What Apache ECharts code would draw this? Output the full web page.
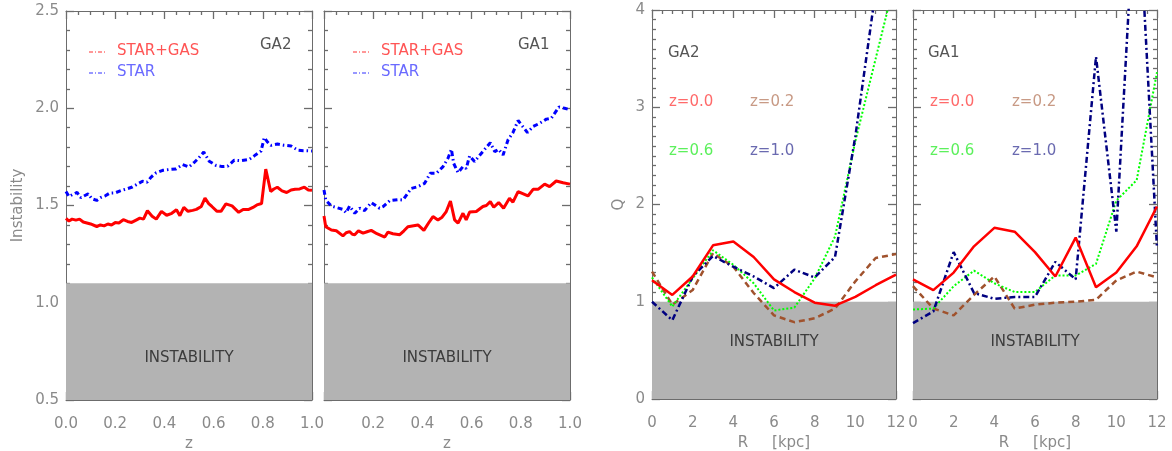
<!DOCTYPE html>
<html>
<head>
<meta charset="utf-8">
<script src="https://cdn.jsdelivr.net/npm/echarts@6/dist/echarts.min.js"></script>
<style>html,body{margin:0;padding:0;background:#fff}#c{width:1172px;height:451px}</style>
</head>
<body>
<div id="c"></div>
<script>
// ---------- DATA ----------
// Panel 1 (GA2): instability vs z
const zRedGA2 = [0.000,0.012,0.025,0.04,0.055,0.07,0.085,0.10,0.125,0.14,0.155,0.17,0.185,0.20,0.215,0.233,0.25,0.267,0.285,0.30,0.315,0.331,0.35,0.367,0.388,0.409,0.43,0.449,0.463,0.479,0.496,0.515,0.53,0.55,0.565,0.58,0.593,0.614,0.63,0.65,0.675,0.702,0.72,0.743,0.76,0.776,0.795,0.812,0.832,0.845,0.859,0.878,0.897,0.915,0.931,0.95,0.969,0.985,1.0];
const vRedGA2 = [1.434,1.42,1.43,1.425,1.43,1.415,1.41,1.405,1.392,1.40,1.395,1.405,1.40,1.412,1.41,1.427,1.418,1.413,1.425,1.435,1.43,1.473,1.445,1.43,1.47,1.45,1.46,1.478,1.448,1.49,1.47,1.475,1.48,1.495,1.538,1.51,1.495,1.47,1.47,1.508,1.498,1.465,1.48,1.48,1.49,1.503,1.51,1.687,1.572,1.585,1.594,1.575,1.567,1.58,1.584,1.585,1.594,1.58,1.578];
const zBlueGA2 = [0.000,0.012,0.025,0.045,0.06,0.075,0.09,0.105,0.125,0.14,0.16,0.178,0.2,0.226,0.245,0.27,0.29,0.311,0.33,0.345,0.365,0.393,0.42,0.447,0.474,0.5,0.52,0.54,0.56,0.582,0.61,0.635,0.657,0.684,0.71,0.745,0.765,0.779,0.793,0.806,0.82,0.833,0.86,0.885,0.915,0.942,0.965,0.99,1.0];
const vBlueGA2 = [1.572,1.546,1.555,1.567,1.54,1.55,1.56,1.535,1.526,1.54,1.55,1.564,1.565,1.578,1.585,1.595,1.61,1.625,1.62,1.645,1.667,1.681,1.685,1.688,1.71,1.698,1.72,1.745,1.775,1.728,1.706,1.70,1.702,1.733,1.73,1.737,1.755,1.768,1.78,1.849,1.825,1.809,1.816,1.81,1.806,1.785,1.782,1.781,1.78];
// Panel 2 (GA1)
const zRedGA1 = [0.000,0.007,0.015,0.03,0.05,0.077,0.09,0.104,0.115,0.125,0.14,0.159,0.175,0.192,0.215,0.247,0.26,0.28,0.308,0.325,0.341,0.382,0.406,0.425,0.443,0.463,0.48,0.497,0.514,0.531,0.545,0.565,0.578,0.592,0.619,0.646,0.66,0.676,0.69,0.71,0.73,0.754,0.768,0.789,0.829,0.85,0.87,0.897,0.917,0.944,0.972,1.0];
const vRedGA1 = [1.446,1.391,1.40,1.374,1.37,1.344,1.36,1.366,1.352,1.35,1.37,1.358,1.365,1.372,1.355,1.338,1.363,1.355,1.35,1.37,1.391,1.40,1.372,1.41,1.443,1.426,1.44,1.469,1.523,1.426,1.409,1.46,1.426,1.466,1.469,1.495,1.50,1.52,1.491,1.515,1.486,1.537,1.517,1.571,1.549,1.583,1.583,1.61,1.597,1.626,1.617,1.61];
const zBlueGA1 = [0.000,0.007,0.03,0.05,0.077,0.09,0.104,0.125,0.145,0.165,0.192,0.21,0.226,0.24,0.267,0.3,0.321,0.355,0.382,0.409,0.432,0.457,0.484,0.504,0.518,0.527,0.545,0.565,0.578,0.592,0.612,0.64,0.676,0.694,0.71,0.728,0.748,0.768,0.789,0.808,0.827,0.85,0.877,0.904,0.924,0.955,0.978,1.0];
const vBlueGA1 = [1.58,1.528,1.497,1.49,1.48,1.463,1.497,1.46,1.486,1.474,1.515,1.50,1.486,1.494,1.525,1.53,1.528,1.588,1.597,1.614,1.666,1.666,1.70,1.743,1.789,1.717,1.669,1.70,1.69,1.755,1.726,1.769,1.823,1.777,1.789,1.76,1.837,1.875,1.937,1.906,1.875,1.906,1.923,1.944,1.949,2.006,2.0,1.992];
// Panels 3-4: Toomre Q vs R [kpc]
const R = [0,1,2,3,4,5,6,7,8,9,10,11,12];
const qGA2_z00 = [1.22,1.07,1.26,1.58,1.62,1.46,1.23,1.10,0.99,0.96,1.05,1.17,1.28];
const qGA2_z02 = [1.31,0.97,1.12,1.50,1.36,1.09,0.86,0.79,0.83,0.93,1.21,1.45,1.49];
const qGA2_z06 = [1.25,0.95,1.24,1.53,1.38,1.19,0.91,0.94,1.24,1.67,2.65,3.50,4.35];
const qGA2_z10 = [1.00,0.81,1.26,1.47,1.36,1.26,1.14,1.33,1.25,1.46,2.70,4.20,5.50];
const qGA1_z00 = [1.23,1.12,1.30,1.57,1.76,1.72,1.51,1.26,1.66,1.15,1.30,1.57,1.98];
const qGA1_z02 = [1.16,0.93,0.86,1.07,1.26,0.93,0.97,0.99,1.00,1.02,1.22,1.31,1.25];
const qGA1_z06 = [0.92,0.93,1.16,1.32,1.19,1.10,1.10,1.27,1.27,1.39,2.04,2.25,3.36];
const qGA1_z10 = [0.78,0.90,1.51,1.09,1.03,1.05,1.05,1.41,1.23,3.52,1.72,5.50,1.55];
// thresholds of the grey "instability" zone
const instabTopZ = 1.1;
const instabTopQ = 1.0;

// ---------- BUILD ----------
const FONT = 'DejaVu Sans';
const AX = '#6c6c6c';
const LBL = '#8a8a8a';
const pairs = (xs, ys) => xs.map((x, i) => [x, ys[i]]);

const grids = [
  {left: 66, right: 1172 - 312, top: 11, bottom: 51},
  {left: 324, right: 1172 - 570, top: 11, bottom: 51},
  {left: 652, right: 1172 - 896, top: 10, bottom: 52},
  {left: 913, right: 1172 - 1157, top: 10, bottom: 52}
].map(g => Object.assign(g, {outerBoundsMode: 'none', containLabel: false}));

const xSpec = [
  {min: 0, max: 1, interval: 0.2, minor: 4, fmt: v => v.toFixed(1), showMin: true, name: 'z', gap: 35},
  {min: 0, max: 1, interval: 0.2, minor: 4, fmt: v => v.toFixed(1), showMin: false, name: 'z', gap: 35},
  {min: 0, max: 12, interval: 2, minor: 4, fmt: v => String(v), showMin: true, name: 'R     [kpc]', gap: 31},
  {min: 0, max: 12, interval: 2, minor: 4, fmt: v => String(v), showMin: true, name: 'R     [kpc]', gap: 31}
];
const ySpec = [
  {min: 0.5, max: 2.5, interval: 0.5, minor: 5, fmt: v => v.toFixed(1), show: true, name: 'Instability', gap: 40},
  {min: 0.5, max: 2.5, interval: 0.5, minor: 5, fmt: v => v.toFixed(1), show: false, name: ''},
  {min: 0, max: 4, interval: 1, minor: 10, fmt: v => String(v), show: true, name: 'Q', gap: 25},
  {min: 0, max: 4, interval: 1, minor: 10, fmt: v => String(v), show: false, name: ''}
];

const blank = () => '';
function frameAxis(g, pos, s, labelShown, margin, name, gap, rotate) {
  const a = {
    type: 'value', gridIndex: g, position: pos, min: s.min, max: s.max, interval: s.interval,
    axisLine: {show: true, onZero: false, lineStyle: {color: AX, width: 1}},
    axisTick: {show: true, inside: true, length: 8, lineStyle: {color: AX, width: 1.3}},
    minorTick: {show: true, splitNumber: s.minor, length: 4, lineStyle: {color: AX, width: 1.3}},
    splitLine: {show: false},
    axisLabel: {show: true, color: LBL, fontFamily: FONT, fontSize: 15, margin: margin || 8,
      formatter: labelShown ? s.fmt : blank,
      showMinLabel: labelShown && s.showMin !== false, showMaxLabel: true},
    name: name || '', nameLocation: 'middle', nameGap: gap || 30,
    nameTextStyle: {color: LBL, fontFamily: FONT, fontSize: 15}
  };
  if (rotate !== undefined) a.nameRotate = rotate;
  return a;
}

const xAxis = [], yAxis = [];
for (let g = 0; g < 4; g++) {
  const xs = xSpec[g], ys = ySpec[g];
  xAxis.push(frameAxis(g, 'bottom', xs, true, 17, xs.name, xs.gap));
  xAxis.push(frameAxis(g, 'top', xs, false));
  yAxis.push(frameAxis(g, 'left', ys, ys.show, 7, ys.name, ys.gap, 90));
  yAxis.push(frameAxis(g, 'right', ys, false));
}

function zone(g, x0, x1, y0, y1, off) {
  return {
    type: 'line', xAxisIndex: 2 * g, yAxisIndex: 2 * g, data: [], z: 1, silent: true,
    markArea: {
      silent: true,
      itemStyle: {color: '#b3b3b3', opacity: 1},
      label: {show: true, position: 'inside', offset: off, color: '#3c3c3c', fontFamily: FONT, fontSize: 15},
      data: [[{name: 'INSTABILITY', xAxis: x0, yAxis: y0}, {xAxis: x1, yAxis: y1}]]
    }
  };
}
function ln(g, name, data, color, width, type) {
  return {type: 'line', name: name, xAxisIndex: 2 * g, yAxisIndex: 2 * g, data: data, z: 3,
    symbol: 'none', showSymbol: false, clip: true, animation: false,
    lineStyle: {color: color, width: width, type: type}, itemStyle: {color: color}};
}
const DASHDOT = [5, 3, 1.5, 3];
const series = [
  zone(0, 0, 1, 0.5, instabTopZ, [0, 16]),
  zone(1, 0, 1, 0.5, instabTopZ, [0, 16]),
  zone(2, 0, 12, 0, instabTopQ, [0, -8]),
  zone(3, 0, 12, 0, instabTopQ, [0, -8]),
  ln(0, 'STAR', pairs(zBlueGA2, vBlueGA2), '#0000ff', 3, DASHDOT),
  ln(0, 'STAR+GAS', pairs(zRedGA2, vRedGA2), '#ff0000', 3, 'solid'),
  ln(1, 'STAR', pairs(zBlueGA1, vBlueGA1), '#0000ff', 3, DASHDOT),
  ln(1, 'STAR+GAS', pairs(zRedGA1, vRedGA1), '#ff0000', 3, 'solid'),
  ln(2, 'z=0.2 GA2', pairs(R, qGA2_z02), '#a0522d', 2.5, [6, 4]),
  ln(2, 'z=0.6 GA2', pairs(R, qGA2_z06), '#00ff00', 2, [2, 2]),
  ln(2, 'z=1.0 GA2', pairs(R, qGA2_z10), '#000080', 2.5, [6, 3, 2, 3]),
  ln(2, 'z=0.0 GA2', pairs(R, qGA2_z00), '#ff0000', 2.5, 'solid'),
  ln(3, 'z=0.2 GA1', pairs(R, qGA1_z02), '#a0522d', 2.5, [6, 4]),
  ln(3, 'z=0.6 GA1', pairs(R, qGA1_z06), '#00ff00', 2, [2, 2]),
  ln(3, 'z=1.0 GA1', pairs(R, qGA1_z10), '#000080', 2.5, [6, 3, 2, 3]),
  ln(3, 'z=0.0 GA1', pairs(R, qGA1_z00), '#ff0000', 2.5, 'solid')
];

function txt(x, y, s, color) {
  return {type: 'text', x: x, y: y, z: 10, style: {text: s, fill: color, font: '15px "' + FONT + '"', textVerticalAlign: 'middle'}};
}
function keyLine(x, y, color) {
  return {type: 'line', z: 10, shape: {x1: x, y1: y, x2: x + 18, y2: y},
    style: {stroke: color, lineWidth: 1, lineDash: [4, 2, 1, 2]}};
}
const graphic = [
  keyLine(89, 52, '#ff3030'), txt(117, 51, 'STAR+GAS', '#ff5555'),
  keyLine(89, 73, '#3030ff'), txt(117, 72, 'STAR', '#6a6aff'),
  keyLine(353, 52, '#ff3030'), txt(381, 51, 'STAR+GAS', '#ff5555'),
  keyLine(353, 73, '#3030ff'), txt(381, 72, 'STAR', '#6a6aff'),
  txt(260, 45, 'GA2', '#555'), txt(518, 45, 'GA1', '#555'),
  txt(668, 53, 'GA2', '#555'),
  txt(669, 102, 'z=0.0', '#ff6a6a'), txt(750, 102, 'z=0.2', '#c89a85'),
  txt(669, 151, 'z=0.6', '#5cf05c'), txt(750, 151, 'z=1.0', '#6a6ab0'),
  txt(928, 53, 'GA1', '#555'),
  txt(930, 102, 'z=0.0', '#ff6a6a'), txt(1012, 102, 'z=0.2', '#c89a85'),
  txt(930, 151, 'z=0.6', '#5cf05c'), txt(1012, 151, 'z=1.0', '#6a6ab0')
];

const chart = echarts.init(document.getElementById('c'), null, {renderer: 'canvas'});
chart.setOption({
  animation: false,
  backgroundColor: '#ffffff',
  textStyle: {fontFamily: FONT},
  grid: grids,
  xAxis: xAxis,
  yAxis: yAxis,
  graphic: graphic,
  series: series
});
</script>
</body>
</html>
